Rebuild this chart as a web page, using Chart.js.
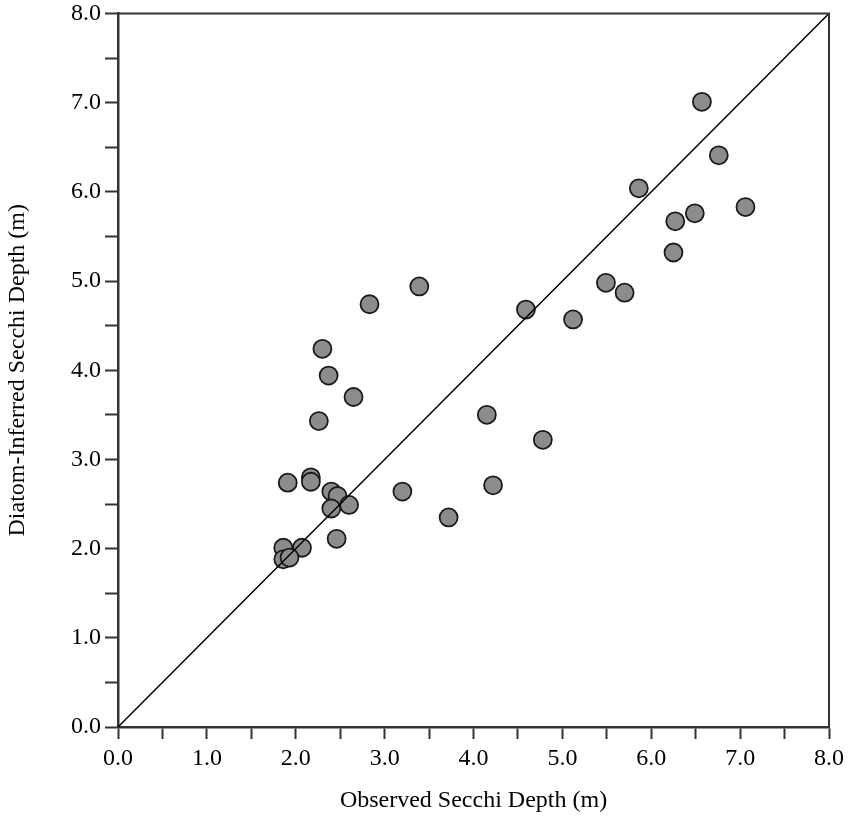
<!DOCTYPE html>
<html>
<head>
<meta charset="utf-8">
<title>Observed vs Diatom-Inferred Secchi Depth</title>
<script src="https://cdn.jsdelivr.net/npm/chart.js@4/dist/chart.umd.min.js"></script>
<style>
    html, body { margin: 0; padding: 0; background: #ffffff; }
    #wrap { width: 851px; height: 821px; }
</style>
</head>
<body>
<div id="wrap"><canvas id="grafico" width="851" height="821"></canvas></div>
<script>
// Datos (m)
const observado = [
    3.39, 2.83, 2.30, 2.37, 2.65, 2.26, 1.91, 2.17, 2.17, 2.40,
    2.47, 2.60, 2.40, 2.46, 2.07, 1.86, 1.86, 1.93, 4.59, 5.12,
    5.49, 5.70, 4.15, 4.78, 3.20, 4.22, 3.72, 6.57, 6.76, 5.86,
    7.06, 6.49, 6.27, 6.25
];
const inferido = [
    4.94, 4.74, 4.24, 3.94, 3.70, 3.43, 2.74, 2.80, 2.75, 2.64,
    2.59, 2.49, 2.45, 2.11, 2.01, 2.01, 1.88, 1.90, 4.68, 4.57,
    4.98, 4.87, 3.50, 3.22, 2.64, 2.71, 2.35, 7.01, 6.41, 6.04,
    5.83, 5.76, 5.67, 5.32
];
// Linea 1:1
const lineaX = [0, 8];
const lineaY = [0, 8];

const ejeMin = 0;
const ejeMax = 8;
const pasoMenor = 0.5;

const fuente = 'Liberation Serif, "Times New Roman", serif';
const colorEje = '#333333';

// Marco superior y derecho del area del grafico
const marcoPlugin = {
    id: 'marco',
    afterDatasetsDraw(chart) {
        const { ctx, chartArea } = chart;
        ctx.save();
        ctx.strokeStyle = colorEje;
        ctx.lineWidth = 2;
        ctx.beginPath();
        ctx.moveTo(chartArea.left, chartArea.top);
        ctx.lineTo(chartArea.right, chartArea.top);
        ctx.lineTo(chartArea.right, chartArea.bottom);
        ctx.stroke();
        ctx.restore();
    }
};

function etiqueta(valor) {
    return Math.abs(valor - Math.round(valor)) < 1e-6 ? valor.toFixed(1) : '';
}

const ctx = document.getElementById('grafico');

new Chart(ctx, {
    type: 'scatter',
    data: {
        datasets: [
            {
                type: 'line',
                label: '1:1',
                data: lineaX.map((x, i) => ({ x: x, y: lineaY[i] })),
                borderColor: '#000000',
                borderWidth: 1.5,
                pointRadius: 0,
                fill: false,
                order: 0
            },
            {
                label: 'Secchi',
                data: observado.map((x, i) => ({ x: x, y: inferido[i] })),
                backgroundColor: '#8c8c8c',
                borderColor: '#1a1a1a',
                borderWidth: 1.8,
                pointRadius: 9,
                order: 1
            }
        ]
    },
    options: {
        responsive: false,
        animation: false,
        layout: {
            padding: { left: 0, top: 0, right: 22, bottom: 0 }
        },
        plugins: {
            legend: { display: false },
            tooltip: { enabled: false }
        },
        scales: {
            x: {
                type: 'linear',
                min: ejeMin,
                max: ejeMax,
                afterFit(scale) { scale.height = 94; },
                border: { display: true, color: colorEje, width: 2.5 },
                grid: {
                    drawOnChartArea: false,
                    drawTicks: true,
                    tickLength: 12,
                    tickColor: colorEje,
                    tickWidth: 2
                },
                ticks: {
                    stepSize: pasoMenor,
                    autoSkip: false,
                    maxRotation: 0,
                    padding: 5,
                    color: '#000000',
                    font: { family: fuente, size: 24 },
                    callback: (v) => etiqueta(v)
                },
                title: {
                    display: true,
                    text: 'Observed Secchi Depth (m)',
                    color: '#000000',
                    font: { family: fuente, size: 24 },
                    padding: { top: 0, bottom: 6 }
                }
            },
            y: {
                type: 'linear',
                min: ejeMin,
                max: ejeMax,
                afterFit(scale) {
                    scale.width = 118;
                    scale.paddingTop = 13.5;
                },
                border: { display: true, color: colorEje, width: 2.5 },
                grid: {
                    drawOnChartArea: false,
                    drawTicks: true,
                    tickLength: 13,
                    tickColor: colorEje,
                    tickWidth: 2
                },
                ticks: {
                    stepSize: pasoMenor,
                    autoSkip: false,
                    padding: 4,
                    color: '#000000',
                    font: { family: fuente, size: 24 },
                    callback: (v) => etiqueta(v)
                },
                title: {
                    display: true,
                    text: 'Diatom-Inferred Secchi Depth (m)',
                    color: '#000000',
                    font: { family: fuente, size: 24 },
                    padding: { top: 3, bottom: 0 }
                }
            }
        }
    },
    plugins: [marcoPlugin]
});
</script>
</body>
</html>
